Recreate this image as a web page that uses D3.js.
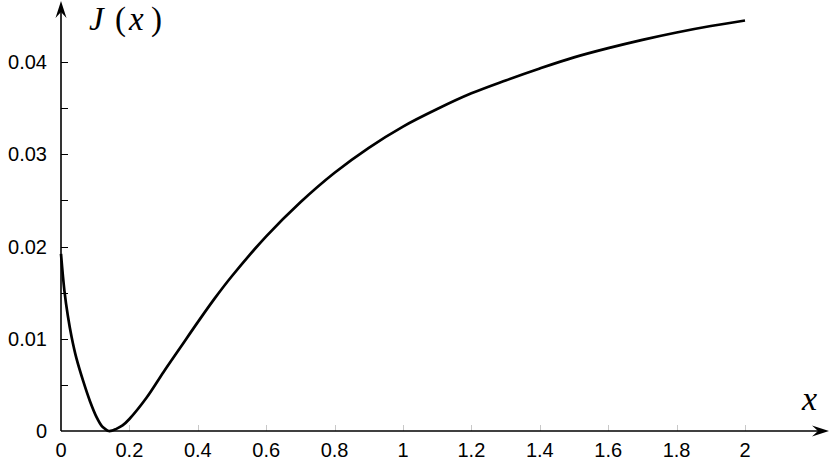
<!DOCTYPE html>
<html>
<head>
<meta charset="utf-8">
<script src="https://cdn.jsdelivr.net/npm/d3@7"></script>
<style>
  html, body { margin: 0; padding: 0; background: #fff; }
  svg { display: block; }
</style>
</head>
<body>
<svg id="chart" width="830" height="467"></svg>
<script>
// ---- data ----
const xValues = [0, 0.01, 0.02, 0.031, 0.045, 0.065, 0.085, 0.104, 0.12, 0.13, 0.14, 0.15, 0.16, 0.18, 0.2, 0.25, 0.3, 0.35, 0.4, 0.45, 0.5, 0.6, 0.7, 0.8, 0.9, 1.0, 1.1, 1.2, 1.3, 1.4, 1.5, 1.6, 1.7, 1.8, 1.9, 2.0];
const jValues = [0.0192, 0.0152, 0.0125, 0.0102, 0.0079, 0.0054, 0.0032, 0.0015, 0.0005, 0.0002, 0.0, 0.00005, 0.0002, 0.0006, 0.0013, 0.0036, 0.0064, 0.0091, 0.0118, 0.0144, 0.0168, 0.0211, 0.0248, 0.0280, 0.0307, 0.0330, 0.0349, 0.0366, 0.0380, 0.0393, 0.0405, 0.0415, 0.0424, 0.0432, 0.0439, 0.0445];
const xTickValues = [0, 0.2, 0.4, 0.6, 0.8, 1, 1.2, 1.4, 1.6, 1.8, 2];
const xTickLabels = ["0", "0.2", "0.4", "0.6", "0.8", "1", "1.2", "1.4", "1.6", "1.8", "2"];
const yMajorTicks = [0, 0.01, 0.02, 0.03, 0.04];
const yMajorLabels = ["0", "0.01", "0.02", "0.03", "0.04"];
const yMinorTicks = [0.005, 0.01, 0.015, 0.02, 0.025, 0.03, 0.035, 0.04];

const svg = d3.select("#chart");

const x = d3.scaleLinear().domain([0, 2]).range([61, 745]);
const y = d3.scaleLinear().domain([0, 0.04]).range([431, 62]);

const x0 = x(0), y0 = y(0);
const xEnd = 829, yEnd = 1;

// x tick marks (light gray, pointing up)
svg.append("g").selectAll("line")
  .data(xTickValues.filter(d => d > 0))
  .join("line")
  .attr("x1", d => Math.round(x(d)) + 0.5).attr("x2", d => Math.round(x(d)) + 0.5)
  .attr("y1", y0).attr("y2", y0 - 6)
  .attr("stroke", "#c8c8c8").attr("stroke-width", 1);

// y tick marks (black, pointing right)
svg.append("g").selectAll("line")
  .data(yMinorTicks)
  .join("line")
  .attr("x1", x0).attr("x2", x0 + 7)
  .attr("y1", d => Math.round(y(d)) + 0.5).attr("y2", d => Math.round(y(d)) + 0.5)
  .attr("stroke", "#000").attr("stroke-width", 1);

// tick labels
const font = "'Liberation Sans', Arial, Helvetica, sans-serif";
svg.append("g").selectAll("text")
  .data(xTickValues)
  .join("text")
  .attr("x", d => x(d))
  .attr("y", 457)
  .attr("text-anchor", "middle")
  .attr("font-family", font).attr("font-size", 20)
  .attr("fill", "#000")
  .text((d, i) => xTickLabels[i]);

svg.append("g").selectAll("text")
  .data(yMajorTicks)
  .join("text")
  .attr("x", 47)
  .attr("y", d => y(d) + 7)
  .attr("text-anchor", "end")
  .attr("font-family", font).attr("font-size", 20)
  .attr("fill", "#000")
  .text((d, i) => yMajorLabels[i]);

// axes lines with stealth arrowheads
svg.append("line")
  .attr("x1", x0).attr("y1", y0).attr("x2", xEnd - 8).attr("y2", y0)
  .attr("stroke", "#000").attr("stroke-width", 1.6);
svg.append("line")
  .attr("x1", x0).attr("y1", y0).attr("x2", x0).attr("y2", yEnd + 8)
  .attr("stroke", "#000").attr("stroke-width", 1.6);

function arrow(tx, ty, angleDeg) {
  const L = 17, W = 11, N = 11;
  svg.append("path")
    .attr("d", `M0,0 L${-L},${-W / 2} L${-N},0 L${-L},${W / 2} Z`)
    .attr("transform", `translate(${tx},${ty}) rotate(${angleDeg})`)
    .attr("fill", "#000");
}
arrow(xEnd, y0, 0);
arrow(x0, yEnd, -90);

// curve
const pts = xValues.map((d, i) => [d, jValues[i]]);
const line = d3.line()
  .x(d => x(d[0]))
  .y(d => y(d[1]))
  .curve(d3.curveCatmullRom.alpha(0.5));

svg.append("path")
  .datum(pts)
  .attr("d", line)
  .attr("fill", "none")
  .attr("stroke", "#000")
  .attr("stroke-width", 2.7)
  .attr("stroke-linejoin", "round");

// axis labels
const mathFont = "'Liberation Serif', 'DejaVu Serif', serif";
const jParts = [
  { t: "J", x: 89, it: true },
  { t: "(", x: 115, it: false },
  { t: "x", x: 129, it: true },
  { t: ")", x: 151, it: false }
];
svg.append("g").selectAll("text")
  .data(jParts)
  .join("text")
  .attr("x", d => d.x).attr("y", 30)
  .attr("font-family", mathFont).attr("font-size", 33)
  .attr("font-style", d => d.it ? "italic" : "normal")
  .attr("fill", "#000")
  .text(d => d.t);

svg.append("text")
  .attr("x", 802).attr("y", 410)
  .attr("font-family", mathFont).attr("font-size", 34)
  .attr("font-style", "italic")
  .attr("fill", "#000")
  .text("x");
</script>
</body>
</html>
